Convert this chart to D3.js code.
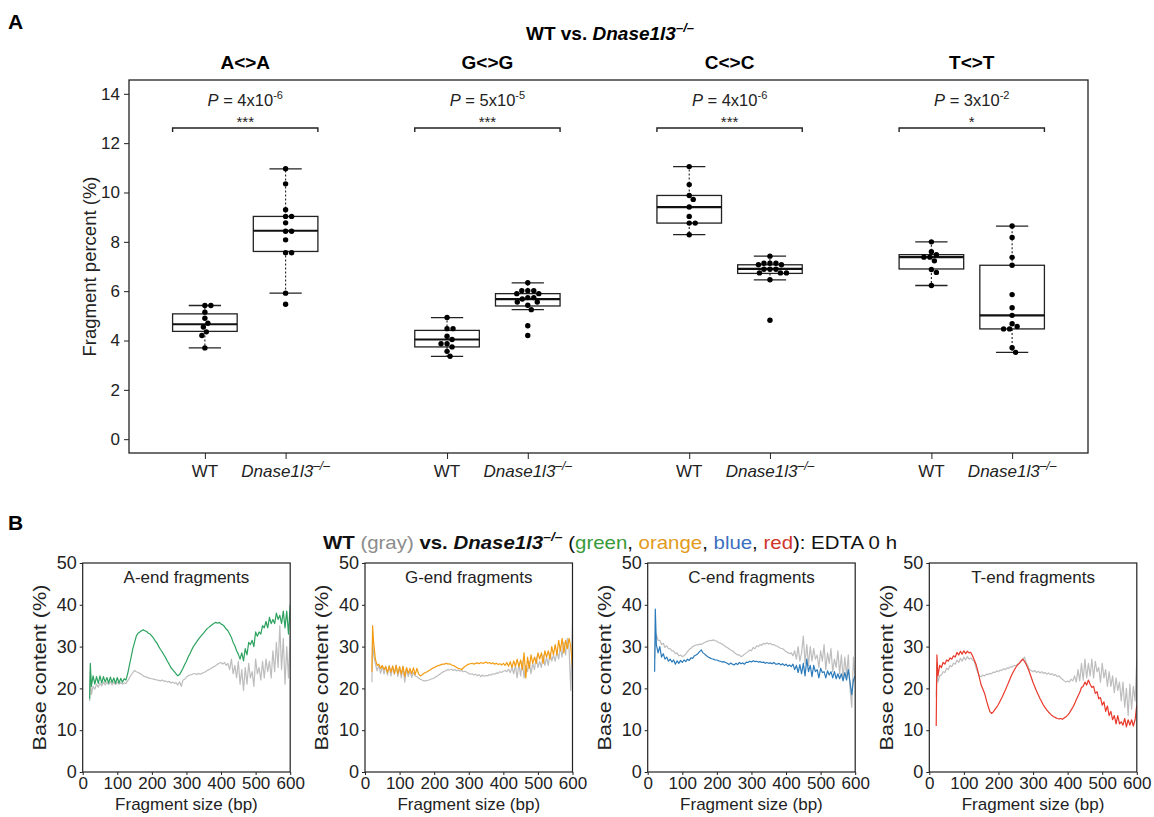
<!DOCTYPE html>
<html>
<head>
<meta charset="utf-8">
<script src="https://cdn.jsdelivr.net/npm/d3@7"></script>
<style>
  body { margin: 0; background: #fff; }
  svg { display: block; font-family: "Liberation Sans", Arial, Helvetica, sans-serif; }
</style>
</head>
<body>
<svg id="chart" width="1154" height="817"></svg>
<script>
// ---------------- DATA: panel A ----------------
const contexts = ["A<>A", "G<>G", "C<>C", "T<>T"];
const genotypeLabels = ["WT", "Dnase1l3"];
const yTicksA = [0, 2, 4, 6, 8, 10, 12, 14];
const pMantissa = ["4", "5", "4", "3"];
const pExponent = ["-6", "-5", "-6", "-2"];
const sigStars = ["***", "***", "***", "*"];

// box statistics (A, G, C, T)
const wtWhiskerLow  = [3.70, 3.36, 8.29, 6.23];
const wtQ1          = [4.37, 3.74, 8.76, 6.90];
const wtMedian      = [4.66, 4.04, 9.41, 7.38];
const wtQ3          = [5.08, 4.41, 9.88, 7.48];
const wtWhiskerHigh = [5.42, 4.93, 11.05, 8.00];

const koWhiskerLow  = [5.92, 5.25, 6.46, 3.52];
const koQ1          = [7.61, 5.40, 6.72, 4.47];
const koMedian      = [8.45, 5.68, 6.90, 5.02];
const koQ3          = [9.03, 5.90, 7.07, 7.05];
const koWhiskerHigh = [10.96, 6.34, 7.42, 8.64];

// individual samples
const wtPoints = [
  [5.42, 5.42, 5.15, 4.90, 4.70, 4.55, 4.35, 4.20, 3.70],
  [4.93, 4.48, 4.48, 4.17, 4.04, 3.87, 3.87, 3.74, 3.56, 3.36],
  [11.05, 10.32, 9.88, 9.72, 9.41, 9.03, 8.76, 8.76, 8.29],
  [8.00, 7.60, 7.48, 7.38, 7.38, 7.23, 6.88, 6.76, 6.23]
];
const koPoints = [
  [10.96, 10.35, 9.30, 9.03, 9.03, 8.77, 8.43, 8.43, 8.08, 7.56, 7.56, 5.92, 5.47],
  [6.34, 6.02, 6.02, 6.02, 5.90, 5.90, 5.74, 5.74, 5.68, 5.56, 5.56, 5.43, 5.25, 4.60, 4.20],
  [7.42, 7.13, 7.13, 7.13, 7.07, 7.07, 6.89, 6.89, 6.89, 6.74, 6.74, 6.74, 6.46, 4.82],
  [8.64, 8.18, 7.37, 7.05, 5.86, 5.33, 5.02, 4.68, 4.57, 4.47, 4.47, 3.71, 3.52]
];

// ---------------- DATA: panel B ----------------
const endTitles = ["A-end fragments", "G-end fragments", "C-end fragments", "T-end fragments"];
const xTicksB = [0, 100, 200, 300, 400, 500, 600];
const yTicksB = [0, 10, 20, 30, 40, 50];
const fragmentSizes = [20, 22].concat(d3.range(25, 601, 5));

const aEndWT = [17, 24,
  18.5, 20.5, 19.8, 21, 20.3, 21.3, 20.6, 21.5, 20.8, 21.5,
  20.9, 21.6, 20.8, 21.5, 20.9, 21.5, 21, 21.4, 21, 21.3,
  21.2, 21.8, 22.5, 23.2, 23.8, 24.3, 24, 23.8, 23.6, 23.3,
  23, 22.8, 22.7, 22.5, 22.4, 22.3, 22.2, 22.1, 22, 21.9,
  21.8, 22, 21.7, 21.8, 21.5, 21.7, 21.3, 21.5, 21.2, 21.4,
  20.8, 21.6, 20.5, 22, 22.2, 22.7, 23, 23.2, 23.3, 23.5,
  23.5, 23.3, 23.6, 23.4, 23.6, 23.8, 24, 24.3, 24.5, 24.7,
  25, 25.2, 25.5, 25.8, 26, 26.2, 25.8, 26.2, 25.5, 26,
  24.5, 27, 23.5, 25.5, 22.5, 26.5, 21, 24.5, 19.5, 25,
  21, 26, 22.5, 24, 20.5, 27, 23.5, 25, 22, 26.5,
  22.5, 27, 24, 26.5, 22.5, 29, 24, 31, 25, 35,
  24.5, 32, 21, 30, 22.5, 33];
const aEndKO = [17.5, 26,
  20.5, 23, 21, 22.8, 21.2, 23, 21.3, 22.8, 21.5, 22.6,
  21.3, 22.7, 21.4, 22.5, 21.2, 22.6, 21.3, 22.4, 21.5, 22.3,
  22, 23.5, 25.5, 27.5, 29.5, 31, 32.5, 33.2, 33.5, 33.8,
  34, 33.8, 33.6, 33.2, 33, 32.5, 32, 31.3, 30.8, 30,
  29.3, 28.7, 28, 27.3, 26.5, 25.8, 25, 24.5, 24, 23.5,
  23, 23.3, 24, 24.8, 25.7, 26.5, 27.5, 28.3, 29.2, 30,
  30.6, 31.2, 31.8, 32.3, 32.8, 33.3, 33.8, 34.3, 34.6, 35,
  35.3, 35.6, 35.8, 35.6, 35.8, 35.4, 35.2, 34.8, 34.2, 33.8,
  33, 32.2, 31, 30.2, 29, 28.2, 27, 28.5, 26.6, 29.5,
  28, 31, 30.5, 31.5, 30, 33.5, 32.5, 33.5, 33, 35,
  34.5, 36, 34.5, 37, 35.5, 36.5, 35.5, 38, 36.5, 37.5,
  35.5, 38.5, 34.5, 38.5, 33, 40];

const gEndWT = [21.5, 32,
  28, 26, 24.2, 25.5, 23.6, 25.3, 23.4, 25.4, 23.2, 25.5,
  23, 25.2, 23.3, 25.6, 22.8, 25.1, 22.5, 25.2, 21.5, 24.8,
  22.8, 24.2, 22.6, 23.8, 23, 22.8, 22.5, 22.2, 22, 21.8,
  21.8, 21.9, 22, 22.2, 22.3, 22.5, 22.8, 23, 23.3, 23.6,
  23.9, 24.1, 24.3, 24.5, 24.4, 24.6, 24.3, 24.5, 24.2, 24.4,
  24.1, 24.3, 24, 24.1, 23.8, 23.6, 23.4, 23.5, 23.2, 23.4,
  23, 23.3, 22.8, 23.2, 22.9, 23.1, 23, 23.3, 23.2, 23.5,
  23.4, 23.7, 23.6, 24, 23.8, 24.1, 24.3, 24, 24.6, 23.8,
  25, 23.5, 25.5, 22.5, 26, 23, 26.5, 22.5, 25.5, 24,
  26.5, 23.5, 26, 24.5, 27.5, 25, 26.5, 25, 28, 25.5,
  27.5, 25.5, 28.5, 26.5, 28, 26.5, 29, 27, 30, 27.5,
  31, 28, 32, 29.5, 19.5, 35.5];
const gEndKO = [24, 35,
  31, 27, 25.5, 25.8, 24.8, 25.5, 24.5, 25.2, 23.8, 25.3,
  23.9, 25.4, 23.6, 25.5, 23.5, 25.2, 23.4, 25.3, 22.8, 25,
  23.6, 24.8, 23.5, 24.9, 23.3, 24.8, 23.5, 23, 23.2, 23.6,
  23.8, 24, 24.3, 24.5, 24.8, 25, 25.2, 25.4, 25.5, 25.7,
  25.8, 25.8, 26, 25.8, 25.9, 25.6, 25.5, 25.3, 25, 24.8,
  24.7, 24.5, 25, 25.3, 25.6, 25.8, 25.9, 26, 25.8, 26,
  26.1, 25.9, 26.2, 26, 26.1, 26.3, 26, 26.2, 25.9, 26.1,
  25.8, 26, 25.7, 25.9, 25.6, 26, 25.5, 26.2, 25.3, 26.4,
  25, 26.6, 25.3, 27, 25.2, 26.8, 24.5, 28.5, 22.5, 27.5,
  24.8, 28, 26, 27.5, 26, 28.5, 27, 28.5, 26, 29,
  27.5, 29, 27, 30, 28, 30.5, 28, 31.5, 29, 32,
  28.5, 31.5, 29.5, 32, 30, 25];

const cEndWT = [27, 30,
  33, 31.5, 31.5, 30.5, 30.8, 29.8, 30.2, 29.5, 29.5, 29,
  29, 28.3, 28.5, 27.8, 28, 27.6, 27.8, 28.2, 28.8, 29.3,
  29.6, 30, 30.2, 30.4, 30.4, 30.6, 30.5, 30.8, 31, 31.2,
  31.3, 31.5, 31.4, 31.6, 31.4, 31.3, 31, 30.8, 30.6, 30.3,
  30, 29.8, 29.5, 29.2, 29, 28.6, 28.3, 28, 28, 27.6,
  27.8, 28.2, 28.5, 28.8, 29.2, 29, 29.8, 29.5, 30.2, 30,
  30.5, 30.3, 30.8, 30.6, 30.9, 30.6, 30.8, 30.4, 30.5, 30.2,
  30.1, 29.8, 29.6, 29.5, 29.2, 28.8, 28.6, 28.3, 28.5, 27.8,
  29, 27, 30, 26.5, 28.5, 32.5, 26, 30.5, 25.5, 30,
  26.5, 29.5, 27, 28, 25, 29, 26.5, 30.5, 24.5, 28.5,
  26, 29.5, 24, 27, 25, 29, 23.5, 28, 22.5, 27.5,
  23, 28, 20, 15.5, 27.5, 21.5];
const cEndKO = [24, 39,
  30.5, 28.5, 30, 27.5, 28.3, 27, 27.5, 26.5, 27, 26.3,
  26.8, 25.8, 26.6, 26, 26.7, 26.2, 26.8, 26.4, 27, 26.7,
  27.3, 27.2, 27.8, 28, 28.3, 28.8, 29.2, 28.5, 28.2, 27.8,
  27.5, 27.3, 27.1, 27, 26.8, 26.8, 26.6, 26.5, 26.3, 26.4,
  26.2, 26, 25.7, 26.1, 25.8, 25.6, 26, 25.7, 26.2, 25.9,
  26.1, 25.8, 26.3, 26.2, 26.5, 26.3, 26.6, 26.4, 26.5, 26.3,
  26.4, 26.2, 26.3, 26, 26.2, 26, 26.1, 25.9, 26.2, 25.8,
  25.8, 26, 25.6, 25.9, 25.5, 25.8, 25.3, 25.6, 25.2, 25.8,
  24.5, 25.5, 23.8, 25.7, 23.5, 26, 23, 27, 24, 25.5,
  22.8, 25.5, 24, 24.5, 22.5, 24.8, 23.8, 24, 22.5, 24.2,
  23.2, 24, 22.5, 24, 22.3, 23.5, 22.3, 23.5, 21.8, 23.8,
  22, 24.5, 21.5, 18.5, 22, 23];

const tEndWT = [18, 26,
  21.5, 23, 23.2, 24, 23.8, 24.8, 24.5, 25.5, 25.2, 26,
  25.8, 26.8, 26.2, 27.2, 26.5, 27.5, 26.8, 27.6, 27, 27.3,
  26.8, 26.5, 25, 23.8, 23, 22.8, 23.2, 23, 23.4, 23.3,
  23.6, 23.5, 23.9, 23.8, 24.2, 24, 24.4, 24.3, 24.7, 24.5,
  24.9, 24.8, 25.2, 25.1, 25.5, 25.4, 25.8, 26, 26.5, 26.8,
  27.5, 26.2, 25.4, 24.5, 24.3, 24, 24.3, 23.8, 24.1, 23.7,
  24, 23.6, 23.8, 23.4, 23.7, 23.3, 23.5, 23.1, 23.3, 22.8,
  23, 22.5, 22.2, 21.8, 21.5, 21.8, 21.5, 22.2, 21.8, 23,
  21.5, 24.5, 21.8, 26, 22, 27, 22.5, 26, 23, 27,
  22.5, 26.5, 24, 25, 21.5, 26, 22.5, 24.5, 20.5, 24,
  20.5, 23, 19, 22.5, 19.5, 21.5, 17, 21.5, 15.5, 20,
  13.5, 21, 15, 20.5, 17, 27];
const tEndKO = [11, 28,
  23, 25.5, 25, 26.2, 25.8, 26.8, 26.5, 27.3, 27, 27.8,
  27.5, 28.6, 28, 28.9, 28.2, 29, 28.3, 28.9, 28.5, 28.6,
  27.8, 26.8, 25.8, 24.3, 22.5, 20.8, 19.8, 18.8, 17.2, 15.8,
  14.5, 14, 14.4, 15, 15.5, 16.2, 17, 17.8, 18.7, 19.6,
  20.6, 21.6, 22.6, 23.5, 24.3, 25, 25.6, 26, 26.5, 27,
  26.5, 25.8, 24.8, 23.8, 22.6, 21.4, 20.4, 19.4, 18.5, 17.6,
  16.8, 16, 15.4, 14.8, 14.3, 13.9, 13.5, 13.2, 13, 12.8,
  12.7, 12.8, 12.6, 12.9, 13.2, 13.6, 14.1, 14.8, 15.5, 16.3,
  17.3, 18.2, 19, 20.2, 20.5, 21.5, 20.8, 22, 21, 20.2,
  20.5, 18.8, 19.2, 17.5, 17.8, 16, 16.8, 14.5, 15.8, 13.5,
  14.5, 12.5, 13.5, 11.5, 13.5, 11.5, 12, 11.2, 12.8, 10.8,
  12.5, 11.2, 12.5, 11, 12.5, 16];

const wtSeries = [aEndWT, gEndWT, cEndWT, tEndWT];
const koSeries = [aEndKO, gEndKO, cEndKO, tEndKO];
const koColors = ["#2ca25f", "#f39c12", "#2b7bbb", "#e8392b"];
const wtColor = "#bdbdbd";

// ---------------- DRAW ----------------
const svg = d3.select("#chart");
const DASH = "\u2013/\u2013";

// panel letters
svg.append("text").attr("x", 8).attr("y", 29).attr("font-size", 21).attr("font-weight", "bold").text("A");
svg.append("text").attr("x", 8).attr("y", 530).attr("font-size", 21).attr("font-weight", "bold").text("B");

// ===== Panel A =====
const PA = { left: 129, right: 1088, top: 80, bottom: 453 };
const xA = d3.scaleLinear().domain([0.06, 11.94]).range([PA.left, PA.right]);
const yA = d3.scaleLinear().domain([-0.56, 14.56]).range([PA.bottom, PA.top]);
const wtPos = [1, 4, 7, 10], koPos = [2, 5, 8, 11];
const boxW = 0.8;

// title
const tA = svg.append("text").attr("x", 610).attr("y", 40).attr("text-anchor", "middle")
  .attr("font-size", 19).attr("font-weight", "bold");
tA.append("tspan").text("WT vs. ");
tA.append("tspan").attr("font-style", "italic").text("Dnase1l3");
tA.append("tspan").attr("font-style", "italic").attr("font-size", 13).attr("dy", -8).text(DASH);

// y axis
const yAxisA = svg.append("g").attr("transform", `translate(${PA.left},0)`)
  .call(d3.axisLeft(yA).tickValues(yTicksA).tickSize(5).tickPadding(4));
yAxisA.select(".domain").remove();
yAxisA.selectAll("text").attr("font-size", 17).attr("fill", "#222").attr("font-family", "Liberation Sans, Arial, sans-serif");
yAxisA.selectAll("line").attr("stroke", "#222");

svg.append("text")
  .attr("transform", `translate(90,${(PA.top + PA.bottom) / 2}) rotate(-90)`)
  .attr("text-anchor", "middle").attr("dy", "0.35em")
  .attr("font-size", 18).attr("fill", "#222")
  .attr("textLength", 180).attr("lengthAdjust", "spacingAndGlyphs")
  .text("Fragment percent (%)");

// x axis ticks
const allPos = wtPos.concat(koPos);
const xAxisA = svg.append("g").attr("transform", `translate(0,${PA.bottom})`)
  .call(d3.axisBottom(xA).tickValues(allPos).tickSize(6).tickFormat(""));
xAxisA.select(".domain").remove();
xAxisA.selectAll("line").attr("stroke", "#222");

allPos.forEach((p, i) => {
  const isWT = i < 4;
  const t = svg.append("text").attr("x", xA(p)).attr("y", 477).attr("text-anchor", "middle")
    .attr("font-size", 17).attr("fill", "#222");
  if (isWT) {
    t.text(genotypeLabels[0]);
  } else {
    t.append("tspan").attr("font-style", "italic").text(genotypeLabels[1]);
    t.append("tspan").attr("font-style", "italic").attr("font-size", 12).attr("dy", -7).text(DASH);
  }
});

// frame
svg.append("rect").attr("x", PA.left).attr("y", PA.top)
  .attr("width", PA.right - PA.left).attr("height", PA.bottom - PA.top)
  .attr("fill", "none").attr("stroke", "#222").attr("stroke-width", 1.3);

function swarm(values, cx, yScale, r) {
  const placed = [];
  const order = values.map((v, i) => ({ v, i })).sort((a, b) => b.v - a.v);
  const minD = 2 * r + 0.2;
  order.forEach(p => {
    const py = yScale(p.v);
    let off = 0;
    for (let k = 0; k < 400; k++) {
      const cands = k === 0 ? [0] : [k * 0.5, -k * 0.5];
      let found = null;
      for (const o of cands) {
        if (placed.every(q => (q.x - (cx + o)) ** 2 + (q.y - py) ** 2 >= minD * minD)) { found = o; break; }
      }
      if (found !== null) { off = found; break; }
    }
    placed.push({ x: cx + off, y: py });
  });
  return placed;
}

function drawBox(g, pos, lo, q1, med, q3, hi, pts) {
  const cx = xA(pos);
  const half = (xA(pos + boxW / 2) - xA(pos - boxW / 2)) / 2;
  const capHalf = half / 2;
  g.append("line").attr("x1", cx).attr("x2", cx).attr("y1", yA(q3)).attr("y2", yA(hi))
    .attr("stroke", "#222").attr("stroke-width", 1.1).attr("stroke-dasharray", "2,2");
  g.append("line").attr("x1", cx).attr("x2", cx).attr("y1", yA(q1)).attr("y2", yA(lo))
    .attr("stroke", "#222").attr("stroke-width", 1.1).attr("stroke-dasharray", "2,2");
  [lo, hi].forEach(v => g.append("line").attr("x1", cx - capHalf).attr("x2", cx + capHalf)
    .attr("y1", yA(v)).attr("y2", yA(v)).attr("stroke", "#222").attr("stroke-width", 1.3));
  g.append("rect").attr("x", cx - half).attr("width", 2 * half)
    .attr("y", yA(q3)).attr("height", yA(q1) - yA(q3))
    .attr("fill", "#fff").attr("stroke", "#222").attr("stroke-width", 1.3);
  g.append("line").attr("x1", cx - half).attr("x2", cx + half)
    .attr("y1", yA(med)).attr("y2", yA(med)).attr("stroke", "#111").attr("stroke-width", 2.2);
  swarm(pts, cx, yA, 2.7).forEach(p => g.append("circle").attr("cx", p.x).attr("cy", p.y)
    .attr("r", 2.7).attr("fill", "#000"));
}

contexts.forEach((ctx, i) => {
  const g = svg.append("g");
  drawBox(g, wtPos[i], wtWhiskerLow[i], wtQ1[i], wtMedian[i], wtQ3[i], wtWhiskerHigh[i], wtPoints[i]);
  drawBox(g, koPos[i], koWhiskerLow[i], koQ1[i], koMedian[i], koQ3[i], koWhiskerHigh[i], koPoints[i]);

  const mid = (xA(wtPos[i]) + xA(koPos[i])) / 2;
  svg.append("text").attr("x", mid).attr("y", 69).attr("text-anchor", "middle")
    .attr("font-size", 19).attr("font-weight", "bold").text(ctx);
  const pt = svg.append("text").attr("x", mid).attr("y", 106).attr("text-anchor", "middle")
    .attr("font-size", 16.5).attr("fill", "#222");
  pt.append("tspan").attr("font-style", "italic").text("P");
  pt.append("tspan").text(" = " + pMantissa[i] + "x10");
  pt.append("tspan").attr("font-size", 11).attr("dy", -7).text(pExponent[i]);
  svg.append("text").attr("x", mid).attr("y", 127).attr("text-anchor", "middle")
    .attr("font-size", 15).attr("fill", "#222").text(sigStars[i]);
  const x1 = xA(wtPos[i] - boxW / 2), x2 = xA(koPos[i] + boxW / 2), yb = 128;
  svg.append("path").attr("d", `M${x1},${yb + 4}V${yb}H${x2}V${yb + 4}`)
    .attr("fill", "none").attr("stroke", "#222").attr("stroke-width", 1.4);
});

// ===== Panel B =====
const PB = { top: 563, bottom: 772, width: 207.5 };
const bLefts = [82.7, 365, 647.7, 929.3];

const tB = svg.append("text").attr("x", 323).attr("y", 549).attr("font-size", 19).attr("fill", "#111");
const segs = [
  { t: "WT ", w: "bold" }, { t: "(gray) ", c: "#8c8c8c" }, { t: "vs. ", w: "bold" },
  { t: "Dnase1l3", w: "bold", s: "italic" }, { t: DASH, w: "bold", s: "italic", sup: true },
  { t: " (" }, { t: "green", c: "#3a9a3a" }, { t: ", " }, { t: "orange", c: "#e39a21" }, { t: ", " },
  { t: "blue", c: "#3d6fbf" }, { t: ", " }, { t: "red", c: "#d0342a" }, { t: "): EDTA 0 h" }
];
segs.forEach((s, i) => {
  const ts = tB.append("tspan").text(s.t);
  if (s.w) ts.attr("font-weight", s.w);
  if (s.s) ts.attr("font-style", s.s);
  if (s.c) ts.attr("fill", s.c);
  if (s.sup) ts.attr("font-size", 13).attr("dy", -8);
  if (i > 0 && segs[i - 1].sup) ts.attr("dy", 8);
});
tB.attr("textLength", 574).attr("lengthAdjust", "spacingAndGlyphs");

endTitles.forEach((title, i) => {
  const left = bLefts[i], right = left + PB.width;
  const x = d3.scaleLinear().domain([0, 600]).range([left, right]);
  const y = d3.scaleLinear().domain([0, 50]).range([PB.bottom, PB.top]);
  const g = svg.append("g");

  const clipId = "clip" + i;
  svg.append("clipPath").attr("id", clipId).append("rect")
    .attr("x", left).attr("y", PB.top).attr("width", PB.width).attr("height", PB.bottom - PB.top);

  const line = d3.line().x(d => x(d[0])).y(d => y(d[1]));
  const wtData = fragmentSizes.map((s, k) => [s, wtSeries[i][k]]).filter(d => d[1] !== undefined);
  const koData = fragmentSizes.map((s, k) => [s, koSeries[i][k]]).filter(d => d[1] !== undefined);

  g.append("path").datum(wtData).attr("d", line).attr("clip-path", `url(#${clipId})`)
    .attr("fill", "none").attr("stroke", wtColor).attr("stroke-width", 1.2).attr("stroke-linejoin", "round");
  g.append("path").datum(koData).attr("d", line).attr("clip-path", `url(#${clipId})`)
    .attr("fill", "none").attr("stroke", koColors[i]).attr("stroke-width", 1.2).attr("stroke-linejoin", "round");

  g.append("rect").attr("x", left).attr("y", PB.top).attr("width", PB.width).attr("height", PB.bottom - PB.top)
    .attr("fill", "none").attr("stroke", "#222").attr("stroke-width", 1.2);

  const ya = g.append("g").attr("transform", `translate(${left},0)`)
    .call(d3.axisLeft(y).tickValues(yTicksB).tickSize(3).tickPadding(3));
  ya.select(".domain").remove();
  ya.selectAll("text").attr("font-size", 18).attr("fill", "#222").attr("font-family", "Liberation Sans, Arial, sans-serif");
  ya.selectAll("line").attr("stroke", "#222");

  const xa = g.append("g").attr("transform", `translate(0,${PB.bottom})`)
    .call(d3.axisBottom(x).tickValues(xTicksB).tickSize(3).tickPadding(2));
  xa.select(".domain").remove();
  xa.selectAll("text").attr("font-size", 17).attr("fill", "#222").attr("font-family", "Liberation Sans, Arial, sans-serif");
  xa.selectAll("line").attr("stroke", "#222");

  g.append("text").attr("x", (left + right) / 2).attr("y", 583).attr("text-anchor", "middle")
    .attr("font-size", 17).attr("fill", "#222").text(title);

  g.append("text").attr("x", (left + right) / 2).attr("y", 810).attr("text-anchor", "middle")
    .attr("font-size", 17).attr("fill", "#222").text("Fragment size (bp)");

  g.append("text")
    .attr("transform", `translate(${left - 43},${(PB.top + PB.bottom) / 2}) rotate(-90)`)
    .attr("text-anchor", "middle").attr("dy", "0.35em")
    .attr("font-size", 18).attr("fill", "#222")
    .attr("textLength", 166).attr("lengthAdjust", "spacingAndGlyphs")
    .text("Base content (%)");
});
</script>
</body>
</html>
